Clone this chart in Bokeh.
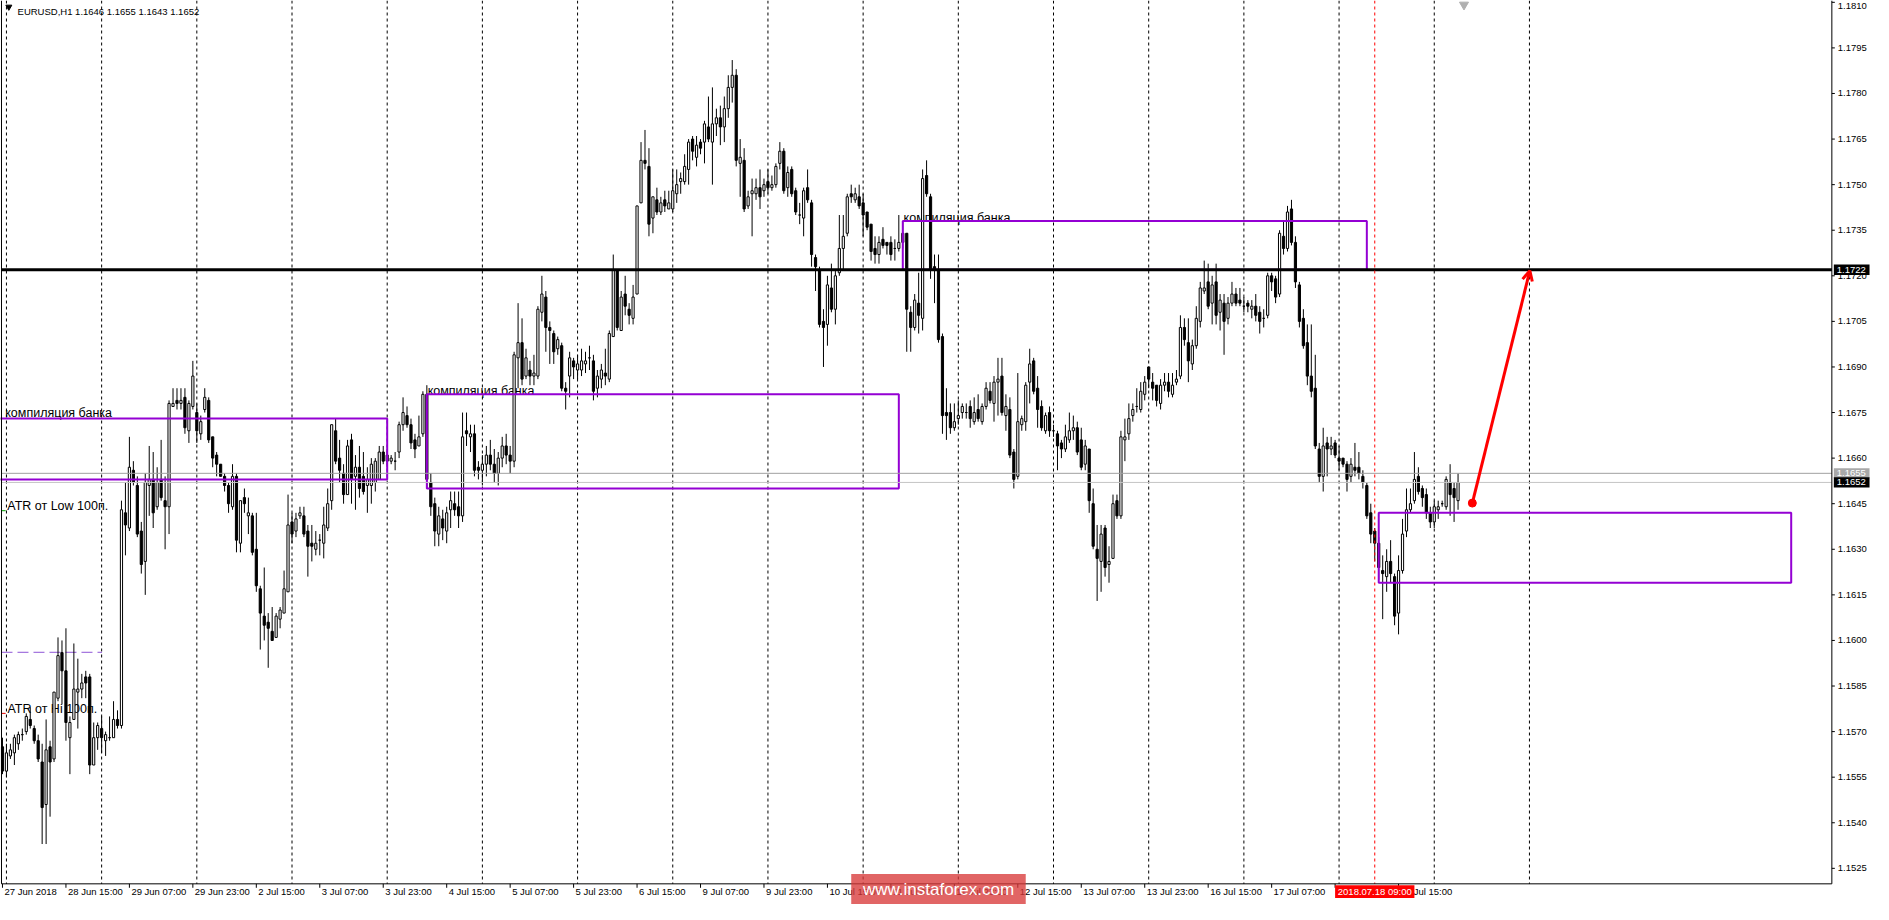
from bokeh.plotting import figure
from bokeh.models import ColumnDataSource, Range1d, Arrow, OpenHead
from bokeh.core.properties import value
from bokeh.embed import file_html
from bokeh.resources import INLINE

# ---------------- data (EURUSD H1, 27 Jun 2018 23:00 .. 19 Jul 2018 06:00) ----------------
symbol = "EURUSD,H1"

opens = [
    1.1565, 1.1557, 1.1562, 1.1563, 1.1566, 1.1569, 1.1570, 1.1574, 1.1571, 1.1567,
    1.1560, 1.1546, 1.1565, 1.1561, 1.1581, 1.1596, 1.1590, 1.1568, 1.1574, 1.1583,
    1.1584, 1.1588, 1.1588, 1.1559, 1.1568, 1.1571, 1.1567, 1.1568, 1.1568, 1.1574,
    1.1572, 1.1642, 1.1637, 1.1656, 1.1651, 1.1636, 1.1626, 1.1651, 1.1653, 1.1644,
    1.1653, 1.1646, 1.1644, 1.1677, 1.1679, 1.1678, 1.1680, 1.1669, 1.1677, 1.1675,
    1.1668, 1.1676, 1.1679, 1.1667, 1.1661, 1.1658, 1.1654, 1.1651, 1.1644, 1.1654,
    1.1632, 1.1647, 1.1641, 1.1641, 1.1630, 1.1617, 1.1608, 1.1606, 1.1603, 1.1601,
    1.1607, 1.1609, 1.1616, 1.1639, 1.1636, 1.1641, 1.1641, 1.1636, 1.1632, 1.1630,
    1.1633, 1.1632, 1.1637, 1.1646, 1.1669, 1.1660, 1.1655, 1.1648, 1.1666, 1.1654,
    1.1657, 1.1654, 1.1651, 1.1651, 1.1652, 1.1653, 1.1662, 1.1659, 1.1659, 1.1659,
    1.1662, 1.1671, 1.1674, 1.1671, 1.1666, 1.1664, 1.1668, 1.1681, 1.1652, 1.1645,
    1.1635, 1.1640, 1.1636, 1.1643, 1.1645, 1.1644, 1.1641, 1.1669, 1.1667, 1.1668,
    1.1657, 1.1656, 1.1658, 1.1661, 1.1658, 1.1655, 1.1660, 1.1664, 1.1661, 1.1659,
    1.1693, 1.1698, 1.1687, 1.1689, 1.1687, 1.1687, 1.1708, 1.1713, 1.1703, 1.1701,
    1.1696, 1.1697, 1.1683, 1.1687, 1.1692, 1.1689, 1.1689, 1.1691, 1.1693, 1.1692,
    1.1683, 1.1686, 1.1688, 1.1686, 1.1700, 1.1722, 1.1702, 1.1714, 1.1709, 1.1706,
    1.1714, 1.1744, 1.1758, 1.1756, 1.1739, 1.1745, 1.1741, 1.1745, 1.1742, 1.1742,
    1.1747, 1.1751, 1.1751, 1.1755, 1.1765, 1.1759, 1.1764, 1.1764, 1.1769, 1.1764,
    1.1770, 1.1772, 1.1769, 1.1775, 1.1782, 1.1786, 1.1757, 1.1758, 1.1743, 1.1747,
    1.1747, 1.1749, 1.1748, 1.1751, 1.1749, 1.1750, 1.1757, 1.1761, 1.1749, 1.1755,
    1.1748, 1.1740, 1.1739, 1.1749, 1.1744, 1.1726, 1.1722, 1.1705, 1.1704, 1.1716,
    1.1709, 1.1721, 1.1729, 1.1734, 1.1747, 1.1745, 1.1746, 1.1744, 1.1741, 1.1737,
    1.1729, 1.1727, 1.1732, 1.1731, 1.1731, 1.1729, 1.1729, 1.1731, 1.1734, 1.1708,
    1.1703, 1.1711, 1.1706, 1.1753, 1.1746, 1.1723, 1.1722, 1.1700, 1.1675, 1.1675,
    1.1670, 1.1673, 1.1675, 1.1675, 1.1677, 1.1672, 1.1676, 1.1672, 1.1677, 1.1682,
    1.1678, 1.1685, 1.1687, 1.1674, 1.1676, 1.1662, 1.1654, 1.1671, 1.1672, 1.1685,
    1.1692, 1.1683, 1.1677, 1.1669, 1.1675, 1.1669, 1.1668, 1.1665, 1.1663, 1.1666,
    1.1669, 1.1670, 1.1666, 1.1658, 1.1663, 1.1645, 1.1630, 1.1626, 1.1637, 1.1625,
    1.1627, 1.1646, 1.1641, 1.1666, 1.1668, 1.1674, 1.1677, 1.1676, 1.1681, 1.1690,
    1.1685, 1.1684, 1.1678, 1.1684, 1.1685, 1.1681, 1.1685, 1.1687, 1.1703, 1.1698,
    1.1691, 1.1697, 1.1705, 1.1715, 1.1718, 1.1711, 1.1718, 1.1708, 1.1711, 1.1706,
    1.1711, 1.1714, 1.1712, 1.1710, 1.1711, 1.1709, 1.1710, 1.1708, 1.1706, 1.1707,
    1.1720, 1.1719, 1.1714, 1.1733, 1.1729, 1.1742, 1.1731, 1.1717, 1.1706, 1.1698,
    1.1687, 1.1683, 1.1663, 1.1654, 1.1665, 1.1663, 1.1665, 1.1660, 1.1660, 1.1658,
    1.1654, 1.1657, 1.1657, 1.1654, 1.1651, 1.1642, 1.1636, 1.1632, 1.1623, 1.1621,
    1.1626, 1.1621, 1.1609, 1.1623, 1.1636, 1.1643, 1.1646, 1.1654, 1.1650, 1.1648,
    1.1642, 1.1639, 1.1643, 1.1645, 1.1644, 1.1652, 1.1650, 1.1646,
]

highs = [
    1.1568, 1.1566, 1.1566, 1.1569, 1.1570, 1.1571, 1.1576, 1.1578, 1.1572, 1.1569,
    1.1566, 1.1574, 1.1567, 1.1583, 1.1601, 1.1600, 1.1604, 1.1575, 1.1599, 1.1594,
    1.1589, 1.1590, 1.1589, 1.1573, 1.1573, 1.1575, 1.1570, 1.1575, 1.1580, 1.1577,
    1.1646, 1.1652, 1.1667, 1.1659, 1.1654, 1.1639, 1.1655, 1.1664, 1.1662, 1.1657,
    1.1666, 1.1654, 1.1679, 1.1683, 1.1683, 1.1683, 1.1683, 1.1679, 1.1692, 1.1678,
    1.1674, 1.1683, 1.1680, 1.1667, 1.1662, 1.1658, 1.1655, 1.1652, 1.1658, 1.1655,
    1.1646, 1.1650, 1.1647, 1.1642, 1.1642, 1.1618, 1.1624, 1.1609, 1.1611, 1.1609,
    1.1611, 1.1623, 1.1648, 1.1642, 1.1642, 1.1644, 1.1644, 1.1638, 1.1638, 1.1636,
    1.1635, 1.1644, 1.1650, 1.1671, 1.1673, 1.1666, 1.1658, 1.1666, 1.1668, 1.1661,
    1.1664, 1.1662, 1.1657, 1.1660, 1.1660, 1.1664, 1.1664, 1.1663, 1.1661, 1.1662,
    1.1672, 1.1680, 1.1677, 1.1673, 1.1668, 1.1674, 1.1682, 1.1684, 1.1655, 1.1647,
    1.1644, 1.1643, 1.1644, 1.1649, 1.1649, 1.1649, 1.1675, 1.1675, 1.1671, 1.1671,
    1.1659, 1.1661, 1.1664, 1.1666, 1.1663, 1.1662, 1.1667, 1.1668, 1.1664, 1.1695,
    1.1711, 1.1706, 1.1696, 1.1692, 1.1694, 1.1710, 1.1720, 1.1715, 1.1705, 1.1702,
    1.1700, 1.1698, 1.1685, 1.1695, 1.1693, 1.1694, 1.1696, 1.1695, 1.1697, 1.1694,
    1.1689, 1.1691, 1.1696, 1.1702, 1.1727, 1.1722, 1.1715, 1.1720, 1.1711, 1.1717,
    1.1743, 1.1764, 1.1768, 1.1762, 1.1746, 1.1749, 1.1746, 1.1748, 1.1748, 1.1755,
    1.1755, 1.1754, 1.1760, 1.1765, 1.1766, 1.1766, 1.1765, 1.1771, 1.1779, 1.1782,
    1.1775, 1.1776, 1.1779, 1.1786, 1.1791, 1.1788, 1.1765, 1.1762, 1.1748, 1.1752,
    1.1752, 1.1755, 1.1752, 1.1755, 1.1753, 1.1757, 1.1764, 1.1762, 1.1756, 1.1756,
    1.1749, 1.1744, 1.1749, 1.1755, 1.1745, 1.1727, 1.1723, 1.1709, 1.1720, 1.1724,
    1.1722, 1.1740, 1.1740, 1.1747, 1.1750, 1.1749, 1.1750, 1.1747, 1.1741, 1.1737,
    1.1733, 1.1733, 1.1736, 1.1731, 1.1733, 1.1732, 1.1740, 1.1738, 1.1734, 1.1710,
    1.1714, 1.1721, 1.1755, 1.1758, 1.1747, 1.1727, 1.1727, 1.1701, 1.1683, 1.1678,
    1.1678, 1.1679, 1.1678, 1.1678, 1.1679, 1.1680, 1.1681, 1.1678, 1.1685, 1.1685,
    1.1687, 1.1693, 1.1693, 1.1681, 1.1680, 1.1663, 1.1688, 1.1674, 1.1685, 1.1696,
    1.1693, 1.1687, 1.1679, 1.1675, 1.1677, 1.1671, 1.1669, 1.1666, 1.1671, 1.1675,
    1.1674, 1.1672, 1.1670, 1.1666, 1.1663, 1.1650, 1.1638, 1.1638, 1.1638, 1.1631,
    1.1648, 1.1648, 1.1669, 1.1673, 1.1678, 1.1678, 1.1683, 1.1685, 1.1687, 1.1690,
    1.1688, 1.1684, 1.1686, 1.1688, 1.1688, 1.1688, 1.1689, 1.1707, 1.1706, 1.1706,
    1.1699, 1.1710, 1.1718, 1.1725, 1.1724, 1.1720, 1.1724, 1.1714, 1.1714, 1.1713,
    1.1718, 1.1716, 1.1716, 1.1713, 1.1712, 1.1712, 1.1714, 1.1710, 1.1709, 1.1721,
    1.1721, 1.1720, 1.1735, 1.1738, 1.1743, 1.1745, 1.1733, 1.1718, 1.1709, 1.1704,
    1.1704, 1.1694, 1.1665, 1.1670, 1.1667, 1.1667, 1.1666, 1.1664, 1.1660, 1.1659,
    1.1660, 1.1665, 1.1662, 1.1656, 1.1652, 1.1645, 1.1637, 1.1634, 1.1628, 1.1630,
    1.1633, 1.1622, 1.1628, 1.1640, 1.1650, 1.1650, 1.1662, 1.1657, 1.1651, 1.1650,
    1.1644, 1.1646, 1.1646, 1.1646, 1.1654, 1.1658, 1.1652, 1.1655,
]

lows = [
    1.1556, 1.1555, 1.1561, 1.1559, 1.1564, 1.1567, 1.1569, 1.1571, 1.1566, 1.1560,
    1.1533, 1.1533, 1.1542, 1.1560, 1.1580, 1.1579, 1.1567, 1.1556, 1.1574, 1.1571,
    1.1581, 1.1581, 1.1556, 1.1559, 1.1564, 1.1563, 1.1562, 1.1567, 1.1568, 1.1571,
    1.1571, 1.1628, 1.1636, 1.1651, 1.1634, 1.1622, 1.1615, 1.1641, 1.1637, 1.1643,
    1.1646, 1.1630, 1.1635, 1.1677, 1.1676, 1.1676, 1.1668, 1.1665, 1.1676, 1.1665,
    1.1666, 1.1675, 1.1665, 1.1657, 1.1654, 1.1654, 1.1649, 1.1642, 1.1643, 1.1629,
    1.1629, 1.1642, 1.1635, 1.1628, 1.1616, 1.1597, 1.1600, 1.1591, 1.1600, 1.1601,
    1.1604, 1.1609, 1.1616, 1.1632, 1.1634, 1.1640, 1.1634, 1.1621, 1.1626, 1.1628,
    1.1628, 1.1627, 1.1636, 1.1643, 1.1658, 1.1652, 1.1645, 1.1648, 1.1645, 1.1643,
    1.1647, 1.1648, 1.1642, 1.1645, 1.1649, 1.1653, 1.1658, 1.1657, 1.1658, 1.1656,
    1.1660, 1.1669, 1.1670, 1.1663, 1.1660, 1.1664, 1.1667, 1.1650, 1.1641, 1.1631,
    1.1631, 1.1633, 1.1632, 1.1637, 1.1641, 1.1637, 1.1639, 1.1664, 1.1662, 1.1654,
    1.1653, 1.1651, 1.1654, 1.1656, 1.1652, 1.1651, 1.1657, 1.1658, 1.1655, 1.1657,
    1.1683, 1.1684, 1.1686, 1.1684, 1.1684, 1.1686, 1.1705, 1.1695, 1.1691, 1.1691,
    1.1694, 1.1682, 1.1676, 1.1680, 1.1686, 1.1686, 1.1687, 1.1688, 1.1689, 1.1679,
    1.1680, 1.1683, 1.1684, 1.1685, 1.1700, 1.1702, 1.1702, 1.1707, 1.1704, 1.1704,
    1.1714, 1.1744, 1.1755, 1.1733, 1.1734, 1.1740, 1.1740, 1.1741, 1.1742, 1.1741,
    1.1744, 1.1747, 1.1750, 1.1750, 1.1758, 1.1756, 1.1760, 1.1757, 1.1764, 1.1750,
    1.1766, 1.1763, 1.1764, 1.1772, 1.1777, 1.1756, 1.1746, 1.1741, 1.1742, 1.1733,
    1.1745, 1.1742, 1.1746, 1.1747, 1.1748, 1.1749, 1.1755, 1.1747, 1.1746, 1.1746,
    1.1740, 1.1737, 1.1733, 1.1744, 1.1723, 1.1715, 1.1703, 1.1690, 1.1697, 1.1708,
    1.1704, 1.1720, 1.1722, 1.1733, 1.1744, 1.1744, 1.1742, 1.1733, 1.1735, 1.1725,
    1.1724, 1.1724, 1.1729, 1.1727, 1.1725, 1.1725, 1.1728, 1.1729, 1.1695, 1.1695,
    1.1702, 1.1701, 1.1702, 1.1746, 1.1719, 1.1711, 1.1698, 1.1668, 1.1666, 1.1668,
    1.1669, 1.1671, 1.1673, 1.1673, 1.1670, 1.1671, 1.1672, 1.1671, 1.1676, 1.1678,
    1.1672, 1.1674, 1.1674, 1.1669, 1.1660, 1.1650, 1.1653, 1.1669, 1.1669, 1.1678,
    1.1681, 1.1670, 1.1669, 1.1668, 1.1667, 1.1667, 1.1656, 1.1660, 1.1662, 1.1665,
    1.1666, 1.1661, 1.1656, 1.1656, 1.1642, 1.1630, 1.1613, 1.1616, 1.1621, 1.1619,
    1.1627, 1.1640, 1.1640, 1.1659, 1.1666, 1.1672, 1.1675, 1.1675, 1.1679, 1.1683,
    1.1679, 1.1677, 1.1676, 1.1682, 1.1680, 1.1680, 1.1684, 1.1686, 1.1697, 1.1685,
    1.1689, 1.1696, 1.1703, 1.1714, 1.1709, 1.1704, 1.1704, 1.1702, 1.1694, 1.1704,
    1.1710, 1.1710, 1.1710, 1.1708, 1.1708, 1.1706, 1.1705, 1.1701, 1.1703, 1.1706,
    1.1715, 1.1711, 1.1713, 1.1727, 1.1728, 1.1730, 1.1716, 1.1703, 1.1696, 1.1684,
    1.1680, 1.1663, 1.1652, 1.1649, 1.1654, 1.1661, 1.1660, 1.1656, 1.1657, 1.1649,
    1.1652, 1.1654, 1.1653, 1.1650, 1.1640, 1.1632, 1.1626, 1.1620, 1.1607, 1.1616,
    1.1619, 1.1605, 1.1602, 1.1622, 1.1634, 1.1642, 1.1645, 1.1648, 1.1644, 1.1640,
    1.1637, 1.1637, 1.1640, 1.1644, 1.1643, 1.1641, 1.1639, 1.1643,
]

closes = [
    1.1557, 1.1563, 1.1564, 1.1568, 1.1569, 1.1569, 1.1575, 1.1572, 1.1567, 1.1561,
    1.1545, 1.1564, 1.1560, 1.1583, 1.1595, 1.1590, 1.1573, 1.1573, 1.1584, 1.1584,
    1.1586, 1.1586, 1.1559, 1.1568, 1.1572, 1.1568, 1.1569, 1.1568, 1.1574, 1.1572,
    1.1643, 1.1638, 1.1657, 1.1652, 1.1635, 1.1625, 1.1652, 1.1653, 1.1642, 1.1652,
    1.1647, 1.1644, 1.1678, 1.1678, 1.1678, 1.1679, 1.1670, 1.1678, 1.1687, 1.1669,
    1.1672, 1.1680, 1.1666, 1.1660, 1.1658, 1.1654, 1.1651, 1.1645, 1.1654, 1.1633,
    1.1646, 1.1645, 1.1642, 1.1629, 1.1618, 1.1609, 1.1605, 1.1604, 1.1600, 1.1608,
    1.1610, 1.1617, 1.1638, 1.1635, 1.1640, 1.1642, 1.1635, 1.1631, 1.1631, 1.1632,
    1.1633, 1.1638, 1.1645, 1.1671, 1.1659, 1.1656, 1.1648, 1.1664, 1.1653, 1.1657,
    1.1650, 1.1649, 1.1653, 1.1658, 1.1659, 1.1662, 1.1659, 1.1661, 1.1660, 1.1659,
    1.1671, 1.1675, 1.1671, 1.1665, 1.1663, 1.1667, 1.1681, 1.1653, 1.1644, 1.1636,
    1.1641, 1.1637, 1.1642, 1.1646, 1.1643, 1.1641, 1.1667, 1.1668, 1.1668, 1.1656,
    1.1656, 1.1658, 1.1661, 1.1658, 1.1655, 1.1660, 1.1664, 1.1661, 1.1659, 1.1694,
    1.1698, 1.1686, 1.1693, 1.1687, 1.1688, 1.1709, 1.1714, 1.1703, 1.1702, 1.1695,
    1.1699, 1.1683, 1.1682, 1.1693, 1.1690, 1.1691, 1.1692, 1.1692, 1.1693, 1.1682,
    1.1687, 1.1689, 1.1687, 1.1701, 1.1722, 1.1703, 1.1713, 1.1710, 1.1707, 1.1713,
    1.1743, 1.1758, 1.1757, 1.1737, 1.1746, 1.1741, 1.1744, 1.1743, 1.1744, 1.1748,
    1.1750, 1.1752, 1.1756, 1.1764, 1.1761, 1.1763, 1.1762, 1.1770, 1.1765, 1.1770,
    1.1772, 1.1769, 1.1775, 1.1782, 1.1786, 1.1758, 1.1759, 1.1742, 1.1746, 1.1748,
    1.1749, 1.1746, 1.1750, 1.1749, 1.1750, 1.1756, 1.1761, 1.1748, 1.1754, 1.1747,
    1.1741, 1.1740, 1.1748, 1.1745, 1.1727, 1.1723, 1.1704, 1.1703, 1.1717, 1.1709,
    1.1720, 1.1729, 1.1733, 1.1746, 1.1746, 1.1747, 1.1743, 1.1740, 1.1736, 1.1728,
    1.1727, 1.1731, 1.1730, 1.1730, 1.1727, 1.1729, 1.1731, 1.1734, 1.1709, 1.1703,
    1.1712, 1.1707, 1.1752, 1.1747, 1.1722, 1.1722, 1.1699, 1.1674, 1.1674, 1.1670,
    1.1672, 1.1674, 1.1677, 1.1675, 1.1673, 1.1675, 1.1673, 1.1677, 1.1683, 1.1679,
    1.1685, 1.1686, 1.1675, 1.1677, 1.1661, 1.1653, 1.1672, 1.1673, 1.1684, 1.1691,
    1.1682, 1.1676, 1.1670, 1.1674, 1.1669, 1.1669, 1.1664, 1.1663, 1.1667, 1.1669,
    1.1670, 1.1662, 1.1657, 1.1664, 1.1646, 1.1631, 1.1627, 1.1635, 1.1624, 1.1626,
    1.1645, 1.1641, 1.1667, 1.1667, 1.1673, 1.1676, 1.1677, 1.1682, 1.1685, 1.1686,
    1.1683, 1.1679, 1.1684, 1.1685, 1.1682, 1.1684, 1.1686, 1.1703, 1.1699, 1.1692,
    1.1697, 1.1706, 1.1716, 1.1716, 1.1710, 1.1717, 1.1707, 1.1712, 1.1705, 1.1711,
    1.1714, 1.1711, 1.1711, 1.1710, 1.1710, 1.1710, 1.1707, 1.1705, 1.1706, 1.1720,
    1.1718, 1.1713, 1.1734, 1.1729, 1.1741, 1.1731, 1.1718, 1.1705, 1.1697, 1.1687,
    1.1682, 1.1664, 1.1654, 1.1664, 1.1663, 1.1664, 1.1661, 1.1659, 1.1658, 1.1653,
    1.1658, 1.1656, 1.1655, 1.1652, 1.1641, 1.1635, 1.1632, 1.1624, 1.1622, 1.1626,
    1.1622, 1.1608, 1.1623, 1.1635, 1.1643, 1.1645, 1.1653, 1.1649, 1.1647, 1.1642,
    1.1639, 1.1644, 1.1644, 1.1645, 1.1653, 1.1648, 1.1647, 1.1652,
]

# time axis: one label every 16 bars, dashed separators at day starts (bar index)
time_tick_bars = [0, 16, 32, 48, 64, 80, 96, 112, 128, 144, 160, 176,
                  192, 208, 224, 240, 256, 272, 288, 304, 320, 336, 352]
time_tick_labels = ["27 Jun 2018", "28 Jun 15:00", "29 Jun 07:00", "29 Jun 23:00",
                    "2 Jul 15:00", "3 Jul 07:00", "3 Jul 23:00", "4 Jul 15:00",
                    "5 Jul 07:00", "5 Jul 23:00", "6 Jul 15:00", "9 Jul 07:00",
                    "9 Jul 23:00", "10 Jul 15:00", "11 Jul 07:00", "11 Jul 23:00",
                    "12 Jul 15:00", "13 Jul 07:00", "13 Jul 23:00", "16 Jul 15:00",
                    "17 Jul 07:00", "17 Jul 23:00", "18 Jul 15:00"]
day_start_bars = [1, 25, 49, 73, 97, 121, 145, 169, 193, 217, 241, 265,
                  289, 313, 337, 361, 385]
price_ticks = [1.1525, 1.1540, 1.1555, 1.1570, 1.1585, 1.1600, 1.1615, 1.1630,
               1.1645, 1.1660, 1.1675, 1.1690, 1.1705, 1.1720, 1.1735, 1.1750,
               1.1765, 1.1780, 1.1795, 1.1810]

# "bank compilation" zones (bar index from/to, price top/bottom)
zone_from = [-2, 107, 227, 347]
zone_to = [97, 226, 344, 451]
zone_top = [1.1673, 1.1681, 1.1738, 1.1642]
zone_bottom = [1.1653, 1.1650, 1.1722, 1.1619]

target_level = 1.1722
ask_price = 1.1655
bid_price = 1.1652
atr_low_level = 1.16427
atr_hi_level = 1.15760
dashed_level = 1.15961
marker_bar = 346
marker_label = "2018.07.18 09:00"
signal_from = (370.6, 1.16452)
signal_to = (385.1, 1.17217)

# ---------------- layout constants (canvas = whole MT4 window) ----------------
FONT = "Liberation Sans"
PURPLE = "#9400D3"
BARS_PER_PX = 0.25            # 4 px per bar
PRICE_PER_PX = 1.0 / 30923.0  # vertical scale
X_MIN, X_MAX = -0.5, 471.75
Y_MIN, Y_MAX = 1.15131, 1.18106
CHART_LEFT = -0.25
CHART_RIGHT = 461.25
CHART_BOTTOM = 1.15199


def bx(px):
    return px * BARS_PER_PX


def py(px):
    return px * PRICE_PER_PX


p = figure(width=1873, height=904,
           x_range=Range1d(X_MIN, X_MAX), y_range=Range1d(Y_MIN, Y_MAX),
           x_axis_location=None, y_axis_location=None,
           toolbar_location=None, output_backend="svg",
           min_border=0, min_border_left=0, min_border_right=0,
           min_border_top=0, min_border_bottom=0)
p.background_fill_color = "white"
p.border_fill_color = "white"
p.outline_line_color = None
p.grid.visible = False

# day separators (dashed)
p.segment(x0=day_start_bars, y0=[Y_MAX] * len(day_start_bars),
          x1=day_start_bars, y1=[CHART_BOTTOM] * len(day_start_bars),
          line_color="black", line_dash="3 3", line_width=1)

# texts behind candles
notes = ColumnDataSource(dict(
    x=[0.7, 107.2, 227.2, 1.2, 1.25],
    y=[1.16749, 1.16821, 1.17389, 1.16444, 1.15775],
    text=["компиляция банка", "компиляция банка", "компиляция банка",
          "ATR от Low 100п.", "ATR от Hi 100п."]))
p.text(x="x", y="y", text="text", source=notes, text_font=value(FONT),
       text_font_size=value("12.5px"), text_color="black",
       text_align="left", text_baseline="alphabetic")

# purple dashed level and ATR markers at the left edge
p.segment(x0=[CHART_LEFT], y0=[dashed_level], x1=[25.1], y1=[dashed_level],
          line_color="#8e55d6", line_dash="11 5", line_width=1)
p.segment(x0=[CHART_LEFT, CHART_LEFT], y0=[atr_low_level, atr_hi_level],
          x1=[0.8, 0.8], y1=[atr_low_level, atr_hi_level],
          line_color=["#00a000", "#e00000"], line_width=1)

# ---------------- candles ----------------
n = min(len(opens), len(highs), len(lows), len(closes))
idx = list(range(n))
body_top = [max(opens[i], closes[i]) for i in idx]
body_bot = [min(opens[i], closes[i]) for i in idx]
wick_top = [max(highs[i], body_top[i]) for i in idx]
wick_bot = [min(lows[i], body_bot[i]) for i in idx]
fill = ["white" if closes[i] >= opens[i] else "black" for i in idx]
cs = ColumnDataSource(dict(x=idx, top=body_top, bot=body_bot, hi=wick_top,
                           lo=wick_bot, fill=fill))
p.segment(x0="x", y0="lo", x1="x", y1="hi", source=cs, line_color="black", line_width=1)
p.vbar(x="x", width=0.55, top="top", bottom="bot", source=cs,
       fill_color="fill", line_color="black", line_width=1)

# zones
p.quad(left=zone_from, right=zone_to, top=zone_top, bottom=zone_bottom,
       fill_color=None, line_color=PURPLE, line_width=2)

# bid / ask lines and target level
p.segment(x0=[CHART_LEFT] * 2, y0=[ask_price, bid_price],
          x1=[CHART_RIGHT] * 2, y1=[ask_price, bid_price],
          line_color=["#a0a0a0", "#c4c4c4"], line_width=1)
p.segment(x0=[CHART_LEFT], y0=[target_level], x1=[CHART_RIGHT], y1=[target_level],
          line_color="black", line_width=3)

# vertical marker line
p.segment(x0=[marker_bar], y0=[Y_MAX], x1=[marker_bar], y1=[CHART_BOTTOM],
          line_color="red", line_dash="3 3", line_width=1)

# signal arrow
p.add_layout(Arrow(x_start=signal_from[0], y_start=signal_from[1],
                   x_end=signal_to[0], y_end=signal_to[1],
                   line_color="red", line_width=3,
                   end=OpenHead(size=10, line_color="red", line_width=3)))
p.scatter(x=[signal_from[0]], y=[signal_from[1]], marker="circle", size=8,
          fill_color="red", line_color="red")

# ---------------- chart frame and axes ----------------
p.segment(x0=[CHART_LEFT, CHART_RIGHT, CHART_LEFT],
          y0=[Y_MAX, Y_MAX, CHART_BOTTOM],
          x1=[CHART_LEFT, CHART_RIGHT, CHART_RIGHT],
          y1=[CHART_BOTTOM, CHART_BOTTOM, CHART_BOTTOM],
          line_color="black", line_width=1)

# price axis (right); the topmost label is kept just inside the window
p.segment(x0=[CHART_RIGHT] * len(price_ticks), y0=price_ticks,
          x1=[CHART_RIGHT + bx(3)] * len(price_ticks), y1=price_ticks,
          line_color="black", line_width=1)
label_y = [min(t, Y_MAX - py(6)) for t in price_ticks]
p.text(x=[CHART_RIGHT + bx(6)] * len(price_ticks), y=label_y,
       text=[f"{t:.4f}" for t in price_ticks], text_font=value(FONT),
       text_font_size=value("9.5px"), text_color="black",
       text_align="left", text_baseline="middle")

# time axis (bottom)
p.segment(x0=time_tick_bars, y0=[CHART_BOTTOM] * len(time_tick_bars),
          x1=time_tick_bars, y1=[CHART_BOTTOM - py(4)] * len(time_tick_bars),
          line_color="black", line_width=1)
TIME_Y = CHART_BOTTOM - py(8)
p.text(x=[b + bx(2) for b in time_tick_bars], y=[TIME_Y] * len(time_tick_bars),
       text=time_tick_labels, text_font=value(FONT), text_font_size=value("9.5px"),
       text_color="black", text_align="left", text_baseline="middle")

# red time marker label
p.rect(x=[marker_bar], y=[TIME_Y], width=bx(80), height=py(13),
       fill_color="#ff0000", line_color=None)
p.text(x=[marker_bar], y=[TIME_Y], text=[marker_label], text_font=value(FONT),
       text_font_size=value("9.5px"), text_color="white",
       text_align="center", text_baseline="middle")

# price labels on the axis
for price, bg in [(target_level, "black"), (ask_price, "#a8a8a8"), (bid_price, "black")]:
    p.rect(x=[CHART_RIGHT + bx(20)], y=[price], width=bx(36), height=py(10.5),
           fill_color=bg, line_color=None)
    p.text(x=[CHART_RIGHT + bx(5)], y=[price], text=[f"{price:.4f}"],
           text_font=value(FONT), text_font_size=value("9.5px"), text_color="white",
           text_align="left", text_baseline="middle")

# header
header = f"{symbol}  {opens[n-1]:.4f} {highs[n-1]:.4f} {lows[n-1]:.4f} {closes[n-1]:.4f}"
p.text(x=[3.8], y=[1.18071], text=[header], text_font=value(FONT),
       text_font_size=value("9.5px"), text_color="black",
       text_align="left", text_baseline="alphabetic")
p.scatter(x=[1.6], y=[1.18085], marker="inverted_triangle", size=6,
          fill_color="black", line_color="black")
p.scatter(x=[368.5], y=[1.18092], marker="inverted_triangle", size=9,
          fill_color="#b0b0b0", line_color="#b0b0b0")

# watermark
WM_Y = Y_MIN + py(15.5)
p.rect(x=[236], y=[WM_Y], width=bx(176), height=py(31),
       fill_color="#d83a3a", fill_alpha=0.78, line_color=None)
p.text(x=[236], y=[WM_Y], text=["www.instaforex.com"], text_font=value(FONT),
       text_font_size=value("17px"), text_color="white",
       text_align="center", text_baseline="middle")

open("out.html", "w").write(file_html(p, INLINE))
